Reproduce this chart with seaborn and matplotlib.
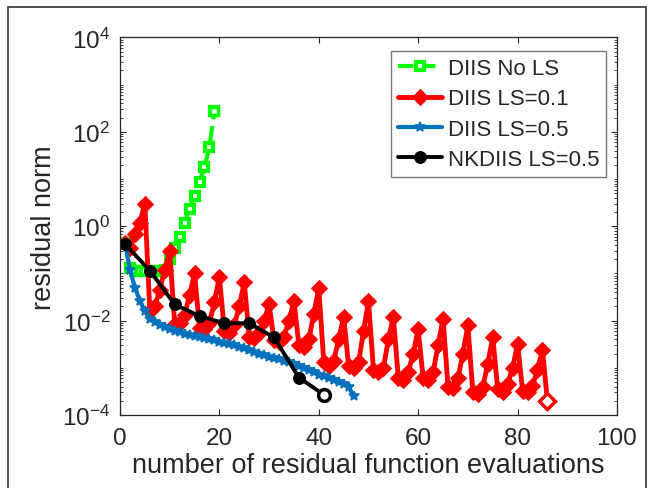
import numpy as np
import matplotlib
matplotlib.use('Agg')
import matplotlib.pyplot as plt
from matplotlib.patches import Rectangle
from matplotlib.ticker import FixedLocator, LogLocator, NullFormatter
import seaborn as sns

# residual norm vs number of residual evaluations
no_ls = [0.45, 0.13, 0.11, 0.11, 0.11, 0.11, 0.11, 0.11, 0.12, 0.2,
         0.35, 0.6, 1.2, 2.3, 4.3, 8.6, 18, 48, 280]

ls01 = [0.45, 0.35, 0.7, 1.2, 3.0,
        0.016, 0.02, 0.045, 0.12, 0.3,
        0.0085, 0.009, 0.013, 0.035, 0.1,
        0.007, 0.0065, 0.009, 0.025, 0.085,
        0.006, 0.0055, 0.008, 0.02, 0.065,
        0.0045, 0.0042, 0.0055, 0.01, 0.022,
        0.0038, 0.0035, 0.0045, 0.01, 0.026,
        0.003, 0.0028, 0.004, 0.014, 0.05,
        0.0013, 0.0011, 0.0014, 0.004, 0.012,
        0.0011, 0.001, 0.0013, 0.006, 0.026,
        0.0009, 0.0008, 0.001, 0.004, 0.012,
        0.0006, 0.00055, 0.0008, 0.002, 0.0065,
        0.0006, 0.00055, 0.0008, 0.003, 0.011,
        0.0004, 0.00037, 0.0006, 0.002, 0.008,
        0.0003, 0.00028, 0.0004, 0.0012, 0.0045,
        0.00035, 0.0003, 0.00045, 0.001, 0.0032,
        0.00033, 0.0003, 0.00042, 0.0009, 0.0024,
        0.0002]

ls05 = [0.45, 0.12, 0.05, 0.026, 0.016, 0.011, 0.0092, 0.008, 0.0072, 0.0066,
        0.0061, 0.0057, 0.0053, 0.005, 0.0047, 0.0044, 0.0042, 0.004, 0.0038, 0.0036,
        0.0034, 0.0032, 0.003, 0.0028, 0.0026, 0.0024, 0.0022, 0.002, 0.0019, 0.0017,
        0.0016, 0.0015, 0.0014, 0.0013, 0.0012, 0.0011, 0.001, 0.0009, 0.0008, 0.00072,
        0.00066, 0.0006, 0.00055, 0.0005, 0.00045, 0.0004, 0.00025]

nk_evals = [1, 6, 11, 16, 21, 26, 31, 36, 41]
nk_ls05 = [0.42, 0.115, 0.022, 0.0125, 0.0088, 0.0088, 0.0044, 0.00062, 0.00027]

x_no_ls = np.arange(1, len(no_ls) + 1)
x_ls01 = np.arange(1, len(ls01) + 1)
x_ls05 = np.arange(1, len(ls05) + 1)

sns.set_style('ticks')
plt.rcParams['font.family'] = ['Liberation Sans', 'DejaVu Sans']
plt.rcParams['mathtext.fontset'] = 'custom'
plt.rcParams['mathtext.rm'] = 'Liberation Sans'
plt.rcParams['mathtext.it'] = 'Liberation Sans:italic'

fig = plt.figure(figsize=(6.54, 4.89), dpi=100)
ax = fig.add_axes([0.1835, 0.1493, 0.7599, 0.772])

green = '#00ff00'
red = '#ff0000'
blue = '#0072bd'

sns.lineplot(x=x_no_ls, y=no_ls, ax=ax, color=green, linestyle='--', linewidth=3,
             marker='s', markersize=5.5, markerfacecolor='white', markeredgecolor=green,
             markeredgewidth=3, label='DIIS No LS')
sns.lineplot(x=x_ls01, y=ls01, ax=ax, color=red, linewidth=3.5, marker='D',
             markersize=8, markeredgecolor=red, label='DIIS LS=0.1')
sns.lineplot(x=x_ls05, y=ls05, ax=ax, color=blue, linewidth=3, marker='*',
             markersize=7, markeredgecolor=blue, markeredgewidth=1.2, label='DIIS LS=0.5')
sns.lineplot(x=nk_evals, y=nk_ls05, ax=ax, color='black', linewidth=2.8, marker='o',
             markersize=8.5, markeredgecolor='black', label='NKDIIS LS=0.5')

# last points drawn hollow
ax.plot(x_ls01[-1:], ls01[-1:], linestyle='none', marker='D', markersize=8,
        markerfacecolor='white', markeredgecolor=red, markeredgewidth=2.5)
ax.plot(x_no_ls[-1:], no_ls[-1:], linestyle='none', marker='s', markersize=6,
        markerfacecolor='white', markeredgecolor=green, markeredgewidth=2.5)
ax.plot(nk_evals[-1:], nk_ls05[-1:], linestyle='none', marker='o', markersize=8.5,
        markerfacecolor='white', markeredgecolor='black', markeredgewidth=2.5)

ax.set_yscale('log')
ax.set_xlim(0, 100)
ax.set_ylim(1e-4, 1e4)
ax.set_xticks([0, 20, 40, 60, 80, 100])
ax.yaxis.set_major_locator(FixedLocator([1e-4, 1e-2, 1, 1e2, 1e4]))
ax.yaxis.set_minor_locator(LogLocator(base=10, subs=np.arange(1, 10), numticks=100))
ax.yaxis.set_minor_formatter(NullFormatter())

edge = '#262626'
for s in ax.spines.values():
    s.set_color(edge)
    s.set_linewidth(0.9)
ax.tick_params(which='both', direction='in', top=True, right=True, color=edge,
               labelcolor=edge)
ax.tick_params(which='major', length=4, width=0.8, labelsize=17.5)
ax.tick_params(axis='x', which='major', pad=9)
ax.tick_params(axis='y', which='major', pad=7)
ax.tick_params(which='minor', length=2, width=0.6)

ax.set_xlabel('number of residual function evaluations', fontsize=19.5, color=edge,
              labelpad=2)
ax.set_ylabel('residual norm', fontsize=19.5, color=edge, labelpad=4)

leg = ax.legend(loc='upper right', bbox_to_anchor=(0.978, 0.963), borderaxespad=0,
                fontsize=16, frameon=True, fancybox=False, framealpha=1,
                edgecolor='#777777', handlelength=2.0, handletextpad=0.25,
                labelspacing=0.42, borderpad=0.3)
leg.get_frame().set_linewidth(1.0)

fig.patches.append(Rectangle((8 / 654, -0.1), 638 / 654, 1.1 - 8 / 489,
                             transform=fig.transFigure, fill=False,
                             edgecolor='#333333', linewidth=1.2))

plt.savefig('out.png', dpi=100)
